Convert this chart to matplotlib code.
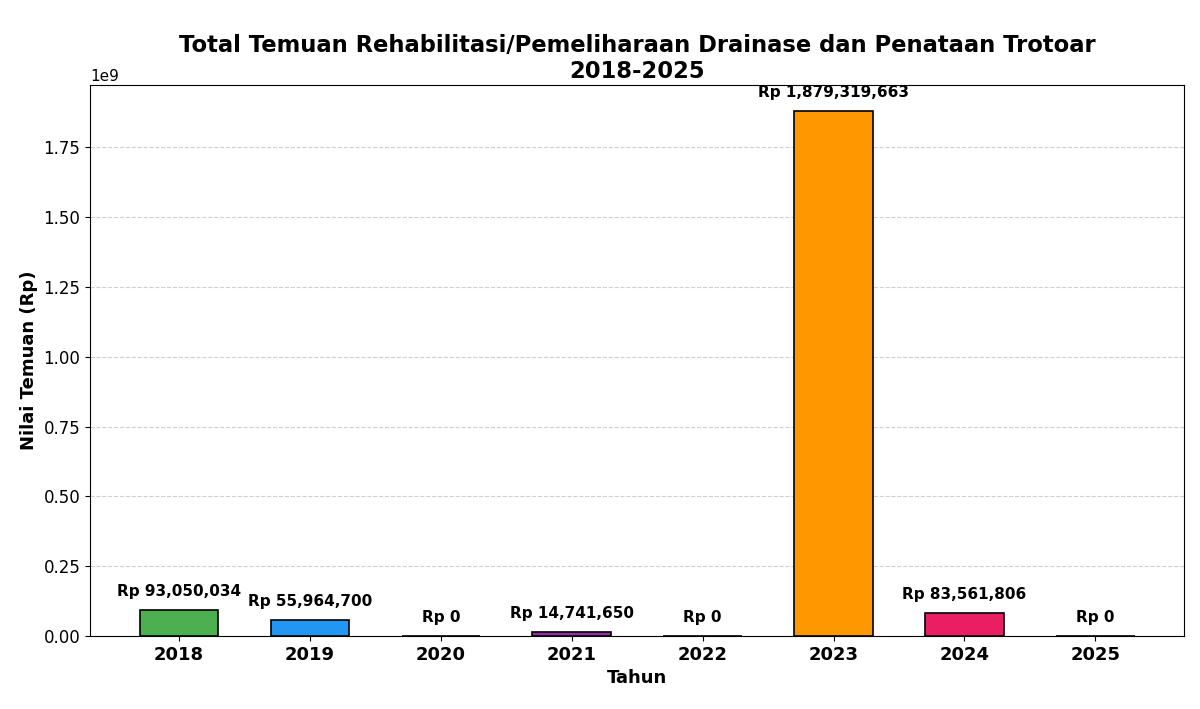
import matplotlib
matplotlib.use("Agg")
import matplotlib.pyplot as plt

# data
years = ["2018", "2019", "2020", "2021", "2022", "2023", "2024", "2025"]
values = [93050034, 55964700, 0, 14741650, 0, 1879319663, 83561806, 0]
colors = ["#4CAF50", "#2196F3", "#F44336", "#9C27B0", "#00BCD4", "#FF9800", "#E91E63", "#607D8B"]

fig, ax = plt.subplots(figsize=(12, 7.09), dpi=100)

bars = ax.bar(years, values, width=0.6, color=colors, edgecolor="black", linewidth=1.2, zorder=3)

for b, v in zip(bars, values):
    ax.annotate(f"Rp {v:,}", xy=(b.get_x() + b.get_width() / 2, v),
                xytext=(0, 8), textcoords="offset points",
                ha="center", va="bottom", fontsize=11, fontweight="bold")

ax.set_title("Total Temuan Rehabilitasi/Pemeliharaan Drainase dan Penataan Trotoar\n2018-2025",
             fontsize=16.3, fontweight="bold", pad=5)
ax.set_xlabel("Tahun", fontsize=13, fontweight="bold")
ax.set_ylabel("Nilai Temuan (Rp)", fontsize=13, fontweight="bold")
ax.tick_params(axis="y", labelsize=12)
ax.tick_params(axis="x", labelsize=13)
for lbl in ax.get_xticklabels():
    lbl.set_fontweight("bold")
ax.yaxis.get_offset_text().set_fontsize(11)
ax.grid(axis="y", linestyle="--", alpha=0.6, zorder=0)

plt.subplots_adjust(left=0.075, right=0.987, top=0.88, bottom=0.103)
plt.savefig("out.png")
